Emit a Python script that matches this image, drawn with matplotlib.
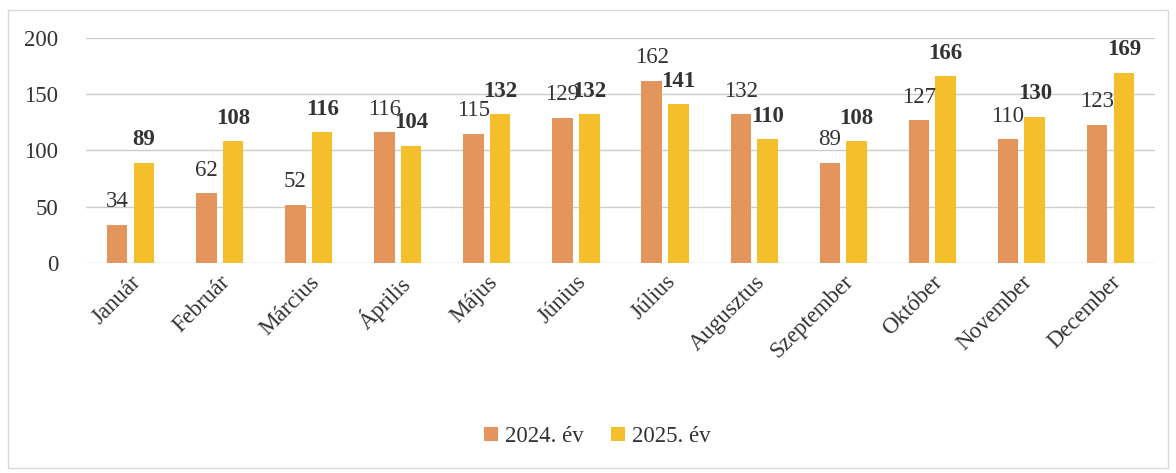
import numpy as np
import matplotlib
matplotlib.use("Agg")
import matplotlib.pyplot as plt
from matplotlib.patches import Rectangle

months = ["Január", "Február", "Március", "Április", "Május", "Június",
          "Július", "Augusztus", "Szeptember", "Október", "November", "December"]
vals_2024 = [34, 62, 52, 116, 115, 129, 162, 132, 89, 127, 110, 123]
vals_2025 = [89, 108, 116, 104, 132, 132, 141, 110, 108, 166, 130, 169]
yticks = [0, 50, 100, 150, 200]

C24 = "#E3955B"
C25 = "#F5BF2C"

plt.rcParams["font.family"] = ["Liberation Serif", "DejaVu Serif"]

fig = plt.figure(figsize=(11.76, 4.73), dpi=100)
ax = fig.add_axes([86 / 1176, 1 - 263 / 473, (1155 - 86) / 1176, (263 - 38) / 473])

x = np.arange(len(months))
w = 0.23
off = 0.15
b1 = ax.bar(x - off, vals_2024, w, color=C24, label="2024. év", zorder=2)
b2 = ax.bar(x + off, vals_2025, w, color=C25, label="2025. év", zorder=2)

for xi, v in zip(x, vals_2024):
    ax.annotate(str(v), (xi - off, v), xytext=(0, 9), textcoords="offset points",
                ha="center", va="bottom", fontsize=16.5, color="#333333")
for xi, v in zip(x, vals_2025):
    ax.annotate(str(v), (xi + off, v), xytext=(0, 9), textcoords="offset points",
                ha="center", va="bottom", fontsize=16.5, color="#333333",
                fontweight="bold")

ax.set_ylim(0, 200)
ax.set_xlim(-0.5, len(months) - 0.5)
ax.set_yticks(yticks)
ax.set_xticks(x)
ax.set_xticklabels(months, rotation=45, ha="right", rotation_mode="anchor")
ax.tick_params(axis="both", length=0, labelsize=16.5, colors="#333333")
ax.tick_params(axis="y", pad=20)
ax.tick_params(axis="x", pad=6)
ax.yaxis.grid(True, color="#cccccc", lw=1)
ax.set_axisbelow(True)
for s in ax.spines.values():
    s.set_visible(False)

fig.legend(handles=[b1, b2], loc="center", bbox_to_anchor=(0.508, 0.077),
           ncol=2, frameon=False, fontsize=16.5, handlelength=0.6,
           handleheight=0.6, handletextpad=0.3, columnspacing=1.2,
           labelcolor="#333333")

fig.patches.append(Rectangle((8 / 1176, 5 / 473), 1160 / 1176, 458 / 473,
                             transform=fig.transFigure, fill=False,
                             edgecolor="#d9d9d9", lw=1))

fig.savefig("out.png", dpi=100)
